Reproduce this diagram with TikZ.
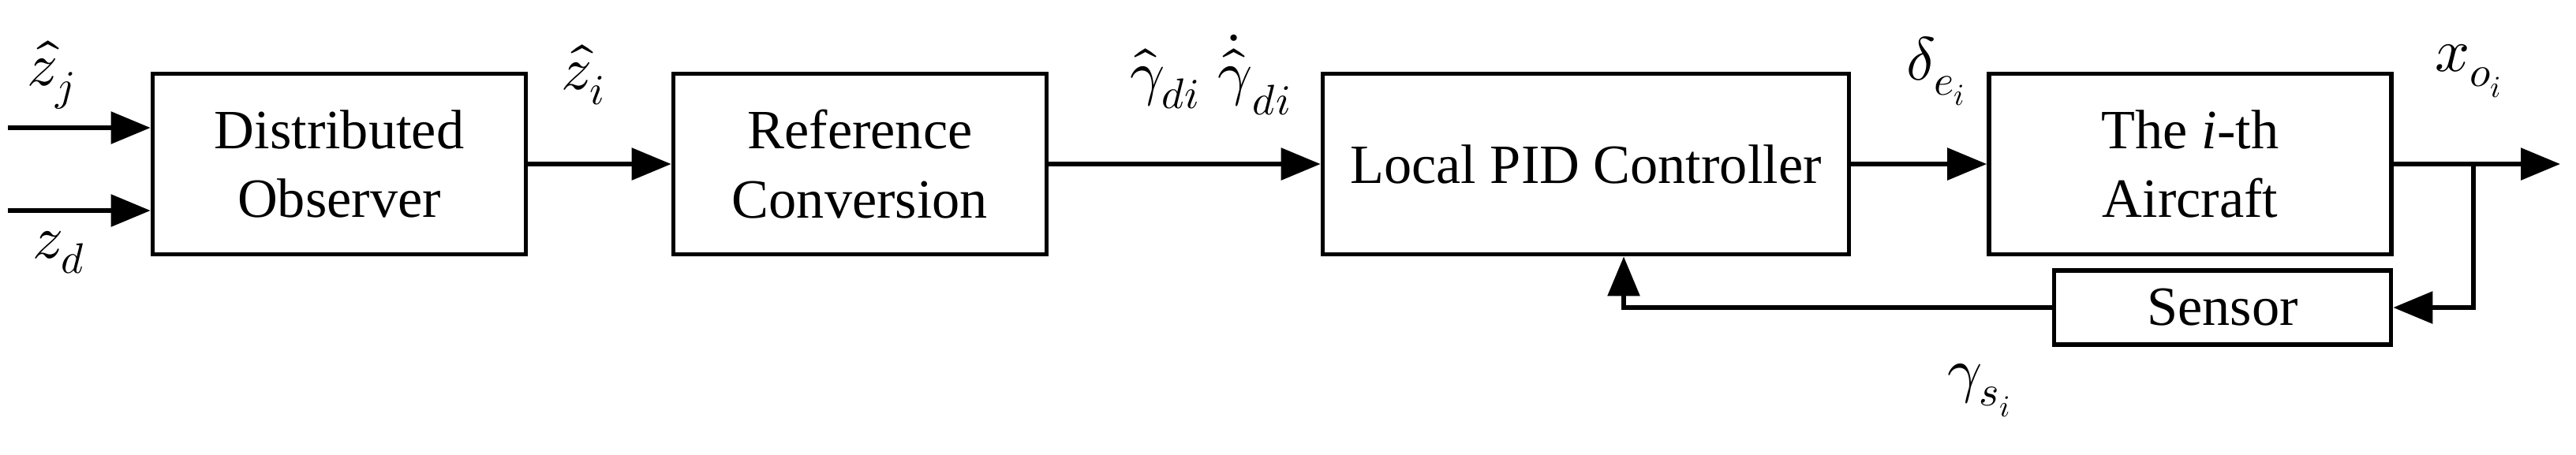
\documentclass[tikz,border=0pt]{standalone}
\usepackage{amsmath,amssymb}
\usepackage{fontspec}
\setmainfont{Liberation Serif}
\usepackage{unicode-math}
\setmathfont{Latin Modern Math}
\usetikzlibrary{arrows.meta,positioning}
\tikzset{
  blk/.style={draw, line width=1.6pt, minimum height=2.29cm, align=center, font=\fontsize{20}{25}\selectfont},
  sig/.style={line width=1.6pt, -{Triangle[length=0.5cm,width=0.4cm]}},
  lbl/.style={font=\fontsize{22}{26}\selectfont}
}
\begin{document}
\begin{tikzpicture}
        \useasboundingbox (0,0) rectangle (32.65,-5.76);
        % Blocks
        \node[blk, minimum width=4.73cm] (obs) at (4.30,-2.08) {Distributed\\Observer};
        \node[blk, minimum width=4.73cm] (ref) at (10.90,-2.08) {Reference\\Conversion};
        \node[blk, minimum width=6.67cm] (pid) at (20.10,-2.08) {Local PID Controller};
        \node[blk, minimum width=5.10cm] (air) at (27.76,-2.08) {The \textit{i}-th\\Aircraft};
        \node[blk, minimum width=4.27cm, minimum height=0.94cm] (sen) at (28.17,-3.90) {Sensor};
        
        % Inputs
        \coordinate (in1) at (0.1,-1.62);
        \coordinate (in2) at (0.1,-2.67);
        \draw[sig] (in1) -- (in1 -| obs.west);
        \draw[sig] (in2) -- (in2 -| obs.west);
        \node[lbl] at (0.65,-0.95) {$\hat{z}_j$};
        \node[lbl] at (0.75,-3.2) {$z_d$};
        
        % Forward path
        \draw[sig] (obs) -- (ref);
        \node[lbl] at (7.40,-0.95) {$\hat{z}_i$};
        \draw[sig] (ref) -- (pid);
        \node[lbl] at (15.35,-0.95) {$\hat{\gamma}_{di}\;\dot{\hat{\gamma}}_{di}$};
        \draw[sig] (pid) -- (air);
        \node[lbl] at (24.55,-0.90) {$\delta_{e_i}$};
        \coordinate (out) at (32.45,-2.08);
        \draw[sig] (air) -- (out);
        \node[lbl] at (31.30,-0.90) {$x_{o_i}$};
        
        % Feedback
        \coordinate (br) at (31.35,-2.08);
        \draw[sig] (br) |- (sen);
        \draw[sig] (sen.west) -| (pid.south -| 20.58,0);
        \node[lbl] at (25.10,-4.95) {$\gamma_{s_i}$};
\end{tikzpicture}
\end{document}
